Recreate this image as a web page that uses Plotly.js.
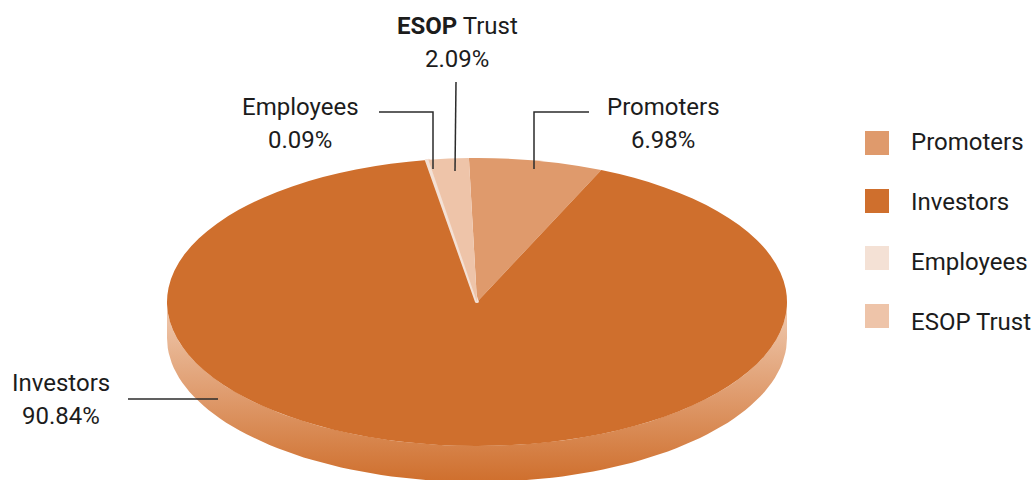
<!DOCTYPE html>
<html>
<head>
<meta charset="utf-8">
<script src="https://cdn.plot.ly/plotly-3.0.1.min.js"></script>
<style>html,body{margin:0;padding:0;background:#fff}#chart{width:1033px;height:480px}</style>
</head>
<body>
<div id="chart"></div>
<script>
const categories = ['Promoters', 'Investors', 'Employees', 'ESOP Trust'];
const shares = [6.98, 90.84, 0.09, 2.09];
const sliceColors = ['#DF9A6C', '#CF6F2D', '#F4E1D5', '#EEC4A9'];
const labelHtml = ['Promoters', 'Investors', 'Employees', '<b>ESOP</b> Trust'];
const labelX = [663, 61, 300, 457];
const labelY = [107, 383, 107, 26];
const legendY = [143, 201, 258, 316];
const legendTextY = [142, 202, 262, 322];
const leaderPaths = ['M589,112H534V169', 'M128,399H218', 'M379,112H433V169', 'M456,82L455,171'];

const FONT = 'Roboto, sans-serif', INK = '#1c1c1c', SIZE = 24;
const cx = 477, cy = 302, rx = 310, ry = 144, depth = 36;

// Rim of the disc: the lower half of the ellipse, swept down by the disc depth
const rimX = [], rimY = [];
for (let a = 0; a <= 180; a += 2) { const t = a * Math.PI / 180; rimX.push(cx + rx * Math.cos(t)); rimY.push(cy + ry * Math.sin(t)); }
for (let a = 180; a >= 0; a -= 2) { const t = a * Math.PI / 180; rimX.push(cx + rx * Math.cos(t)); rimY.push(cy + depth + ry * Math.sin(t)); }

const traces = [
  { type: 'scatter', x: rimX, y: rimY, mode: 'lines', line: { width: 0 }, fill: 'toself', hoverinfo: 'skip', showlegend: false,
    fillgradient: { type: 'vertical', colorscale: [[0, '#CF6F2D'], [1, '#F0CBB2']] } },
  { type: 'pie', labels: categories, values: shares, sort: false, direction: 'clockwise', rotation: -1.5,
    marker: { colors: sliceColors, line: { color: sliceColors, width: [0, 0, 3, 0] } },
    textinfo: 'none', hoverinfo: 'label+percent', showlegend: false, domain: { x: [0, 1], y: [0, 1] } }
];

const annotations = [], shapes = [];
const txt = (x, y, text, anchor) => annotations.push({ xref: 'x', yref: 'y', x, y, text, showarrow: false, xanchor: anchor, yanchor: 'middle',
  font: { family: FONT, size: SIZE, color: INK } });
categories.forEach((c, i) => {
  txt(labelX[i], labelY[i], labelHtml[i], 'center');
  txt(labelX[i], labelY[i] + 33, shares[i].toFixed(2) + '%', 'center');
  txt(909, legendTextY[i], c, 'left');
  shapes.push({ type: 'rect', xref: 'x', yref: 'y', x0: 865, x1: 889, y0: legendY[i] - 12, y1: legendY[i] + 12, fillcolor: sliceColors[i], line: { width: 0 } });
  shapes.push({ type: 'path', xref: 'x', yref: 'y', path: leaderPaths[i], line: { color: '#2b2b2b', width: 1.5 } });
});

const layout = {
  width: 1033, height: 480, margin: { l: 0, r: 0, t: 0, b: 0 }, paper_bgcolor: '#fff', plot_bgcolor: '#fff', showlegend: false,
  xaxis: { range: [0, 1033], visible: false, fixedrange: true },
  yaxis: { range: [480, 0], visible: false, fixedrange: true },
  annotations, shapes
};

Plotly.newPlot('chart', traces, layout, { displayModeBar: false, staticPlot: true }).then(() => {
  // Plotly pies are always round: tilt the drawn pie into the disc's ellipse
  const R = 240, a = rx / R, d = ry / R;
  document.querySelector('#chart .pielayer').setAttribute('transform',
    `matrix(${a},0,0,${d},${cx - 516.5 * a},${cy - 240 * d})`);
});
</script>
</body>
</html>
